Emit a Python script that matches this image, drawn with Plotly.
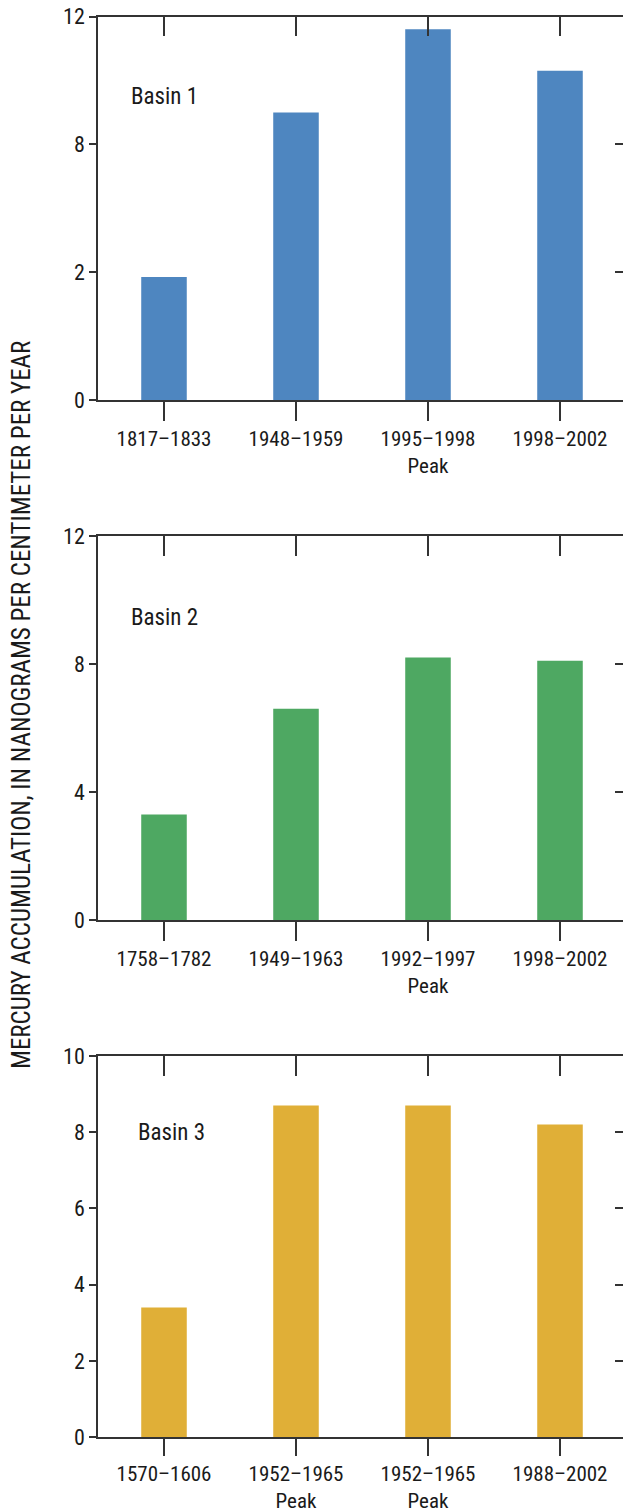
import plotly.graph_objects as go

# Sediment-core mercury accumulation for three basins
basin1_labels = ["1817–1833", "1948–1959", "1995–1998<br>Peak", "1998–2002"]
basin1_values = [3.85, 9.0, 11.6, 10.3]
basin1_yticks = [0, 4, 8, 12]
basin1_yticktext = ["0", "2", "8", "12"]

basin2_labels = ["1758–1782", "1949–1963", "1992–1997<br>Peak", "1998–2002"]
basin2_values = [3.3, 6.6, 8.2, 8.1]
basin2_yticks = [0, 4, 8, 12]
basin2_yticktext = ["0", "4", "8", "12"]

basin3_labels = ["1570–1606", "1952–1965<br>Peak", "1952–1965<br>Peak", "1988–2002"]
basin3_values = [3.4, 8.7, 8.7, 8.2]
basin3_yticks = [0, 2, 4, 6, 8, 10]
basin3_yticktext = ["0", "2", "4", "6", "8", "10"]

basin_names = ["Basin 1", "Basin 2", "Basin 3"]
bar_colors = ["#4E86C0", "#4EA862", "#E0AF37"]

W, H = 623, 1512
LEFT = 98
FONT = "Roboto Condensed, Liberation Sans Narrow, DejaVu Sans Condensed, sans-serif"
INK = "#333333"
TXT = "#1a1a1a"

panels = [
    dict(labels=basin1_labels, values=basin1_values, yt=basin1_yticks, ytt=basin1_yticktext,
         ymax=12, top=16.5, bottom=400, name_y=9.5, name_x=-0.268, xticklen=19),
    dict(labels=basin2_labels, values=basin2_values, yt=basin2_yticks, ytt=basin2_yticktext,
         ymax=12, top=536, bottom=920, name_y=9.44, name_x=-0.268, xticklen=19),
    dict(labels=basin3_labels, values=basin3_values, yt=basin3_yticks, ytt=basin3_yticktext,
         ymax=10, top=1056, bottom=1437, name_y=7.98, name_x=-0.215, xticklen=17),
]

xrange = [-0.5, -0.5 + (W - LEFT) / 132.0]

fig = go.Figure()
layout = dict(
    width=W, height=H,
    margin=dict(l=LEFT, r=0, t=0, b=0, autoexpand=False),
    paper_bgcolor="white", plot_bgcolor="white",
    showlegend=False,
    font=dict(family=FONT, size=21, color=TXT),
    annotations=[],
)

for i, p in enumerate(panels):
    xb, xt = 2 * i + 1, 2 * i + 2
    yl, yr = 2 * i + 1, 2 * i + 2
    xs = list(range(len(p["values"])))
    fig.add_trace(go.Bar(
        x=xs, y=p["values"], width=0.345,
        marker=dict(color=bar_colors[i], line=dict(width=0)),
        xaxis=f"x{xb}", yaxis=f"y{yl}", hoverinfo="skip",
    ))
    # empty trace so the mirrored top/right axes get drawn
    fig.add_trace(go.Scatter(
        x=[xs[0]], y=[0], mode="markers", marker=dict(opacity=0),
        xaxis=f"x{xt}", yaxis=f"y{yr}", hoverinfo="skip",
    ))
    dom = [1 - p["bottom"] / H, 1 - p["top"] / H]
    xkey_b = "xaxis" if xb == 1 else f"xaxis{xb}"
    ykey_l = "yaxis" if yl == 1 else f"yaxis{yl}"
    layout[xkey_b] = dict(
        domain=[0, 1], anchor=f"y{yl}", range=xrange, automargin=False,
        tickmode="array", tickvals=xs, ticktext=p["labels"],
        ticks="outside", ticklen=p["xticklen"], tickwidth=1.5, tickcolor=INK,
        showline=True, linecolor=INK, linewidth=1.5,
        showgrid=False, zeroline=False, fixedrange=True,
        tickfont=dict(family=FONT, size=21, color=TXT),
    )
    layout[f"xaxis{xt}"] = dict(
        overlaying=f"x{xb}", anchor=f"y{yr}", side="top", range=xrange, automargin=False,
        tickmode="array", tickvals=xs, ticktext=[""] * len(xs),
        ticks="inside", ticklen=20, tickwidth=1.5, tickcolor=INK,
        showline=True, linecolor=INK, linewidth=1.5,
        showgrid=False, zeroline=False, fixedrange=True,
    )
    layout[ykey_l] = dict(
        domain=dom, anchor=f"x{xb}", range=[0, p["ymax"]], automargin=False,
        tickmode="array", tickvals=p["yt"], ticktext=p["ytt"],
        ticks="outside", ticklen=7, tickwidth=1.5, tickcolor=INK,
        showline=True, linecolor=INK, linewidth=1.5,
        showgrid=False, zeroline=False, fixedrange=True,
        tickfont=dict(family=FONT, size=22, color=TXT),
    )
    layout[f"yaxis{yr}"] = dict(
        overlaying=f"y{yl}", anchor=f"x{xt}", side="right", range=[0, p["ymax"]],
        automargin=False,
        tickmode="array", tickvals=p["yt"][1:-1], ticktext=[""] * (len(p["yt"]) - 2),
        ticks="inside", ticklen=8, tickwidth=1.5, tickcolor=INK,
        showline=False, showgrid=False, zeroline=False, fixedrange=True,
    )
    layout["annotations"].append(dict(
        text=basin_names[i], xref=f"x{xb}", yref=f"y{yl}",
        x=p["name_x"], y=p["name_y"], xanchor="left", yanchor="middle",
        showarrow=False, font=dict(family=FONT, size=23, color=TXT),
    ))

layout["annotations"].append(dict(
    text="MERCURY ACCUMULATION, IN NANOGRAMS PER CENTIMETER PER YEAR",
    xref="paper", yref="paper", x=(21 - LEFT) / (W - LEFT), y=1 - 705 / H,
    xanchor="center", yanchor="middle", textangle=-90, showarrow=False,
    font=dict(family=FONT, size=25, color=TXT),
))

fig.update_layout(**layout)
fig.write_html("out.html")
